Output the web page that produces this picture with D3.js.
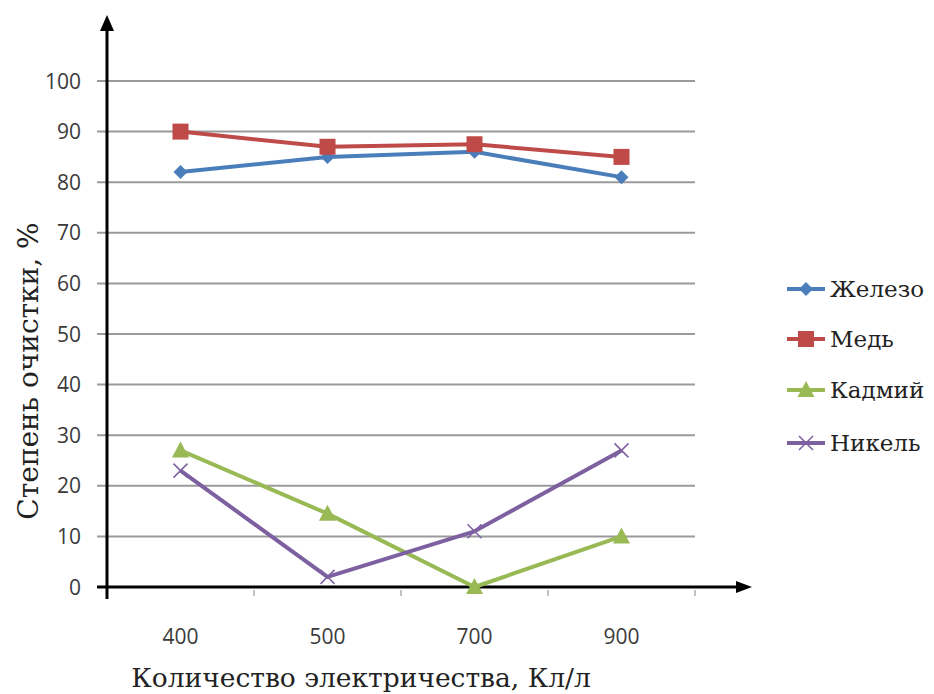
<!DOCTYPE html>
<html><head><meta charset="utf-8">
<script src="https://cdn.jsdelivr.net/npm/d3@7"></script>
<style>body{margin:0;background:#fff}svg{display:block}</style>
</head><body>
<svg id="c" width="934" height="694"></svg>
<script>
const categories = ["400", "500", "700", "900"];
const yTicks = [0, 10, 20, 30, 40, 50, 60, 70, 80, 90, 100];
const seriesNames = ["Железо", "Медь", "Кадмий", "Никель"];
const iron = [82, 85, 86, 81];
const copper = [90, 87, 87.5, 85];
const cadmium = [27, 14.5, 0, 10];
const nickel = [23, 2, 11, 27];
const colors = ["#4a7ebb", "#be4b48", "#98b954", "#7d60a0"];
const markers = ["diamond", "square", "triangle", "x"];
const yTitle = "Степень очистки, %";
const xTitle = "Количество электричества, Кл/л";

const series = [iron, copper, cadmium, nickel];
const svg = d3.select("#c");
const x0 = 107, x1 = 695, yTop = 81, yBot = 587;
const x = d3.scaleBand().domain(categories).range([x0, x1]);
const y = d3.scaleLinear().domain([0, 100]).range([yBot, yTop]);
const serif = "DejaVu Serif, serif";
const sans = "Open Sans, sans-serif";

// gridlines
svg.append("g").selectAll("line").data(yTicks.filter(d => d > 0)).join("line")
  .attr("x1", 97).attr("x2", x1).attr("y1", d => y(d)).attr("y2", d => y(d))
  .attr("stroke", "#9a9a9a").attr("stroke-width", 2);

// y tick labels
svg.append("g").selectAll("text").data(yTicks).join("text")
  .attr("x", 81).attr("y", d => y(d)).attr("dy", "0.36em")
  .attr("text-anchor", "end").attr("font-family", sans)
  .attr("font-size", 21).attr("fill", "#3a3a3a").text(d => d);

// x axis ticks
const xa = d3.axisBottom(x).tickSize(0).tickFormat(d => d);
const gx = svg.append("g").attr("transform", `translate(0,${yBot})`).call(xa);
gx.select(".domain").remove();
gx.selectAll("text").attr("dy", 0).attr("y", 57).attr("font-family", sans)
  .attr("font-size", 21).attr("fill", "#3a3a3a");
svg.append("g").selectAll("line").data(categories.slice(1).concat(["end"])).join("line")
  .attr("x1", (d, i) => x0 + x.step() * (i + 1)).attr("x2", (d, i) => x0 + x.step() * (i + 1))
  .attr("y1", yBot + 3).attr("y2", yBot + 9).attr("stroke", "#999").attr("stroke-width", 1.2);

// axes lines with arrows
svg.append("line").attr("x1", 97).attr("x2", 738).attr("y1", yBot).attr("y2", yBot)
  .attr("stroke", "#000").attr("stroke-width", 3);
svg.append("path").attr("d", `M752,${yBot} L736,${yBot - 6} L736,${yBot + 6} Z`).attr("fill", "#000");
svg.append("line").attr("x1", x0).attr("x2", x0).attr("y1", 599).attr("y2", 28)
  .attr("stroke", "#000").attr("stroke-width", 3);
svg.append("path").attr("d", `M${x0},15 L${x0 - 7},31 L${x0 + 7},31 Z`).attr("fill", "#000");

function marker(g, type, cx, cy, color) {
  if (type === "diamond") {
    g.append("path").attr("d", `M${cx},${cy - 7} L${cx + 7},${cy} L${cx},${cy + 7} L${cx - 7},${cy} Z`).attr("fill", color);
  } else if (type === "square") {
    g.append("rect").attr("x", cx - 8).attr("y", cy - 8).attr("width", 16).attr("height", 16).attr("fill", color);
  } else if (type === "triangle") {
    g.append("path").attr("d", `M${cx},${cy - 9} L${cx + 8.5},${cy + 7} L${cx - 8.5},${cy + 7} Z`).attr("fill", color);
  } else {
    g.append("path").attr("d", `M${cx - 7},${cy - 7} L${cx + 7},${cy + 7} M${cx + 7},${cy - 7} L${cx - 7},${cy + 7}`)
      .attr("stroke", color).attr("stroke-width", 1.5).attr("fill", "none");
  }
}

const line = d3.line().x((d, i) => x(categories[i]) + x.bandwidth() / 2).y(d => y(d));
series.forEach((s, k) => {
  const g = svg.append("g");
  g.append("path").attr("d", line(s)).attr("fill", "none").attr("stroke", colors[k])
    .attr("stroke-width", 4).attr("stroke-linejoin", "round");
  s.forEach((v, i) => marker(g, markers[k], x(categories[i]) + x.bandwidth() / 2, y(v), colors[k]));
});

// legend
const legY = [289, 339, 390, 443];
seriesNames.forEach((n, k) => {
  const g = svg.append("g");
  g.append("line").attr("x1", 787).attr("x2", 825).attr("y1", legY[k]).attr("y2", legY[k])
    .attr("stroke", colors[k]).attr("stroke-width", 4);
  marker(g, markers[k], 806, legY[k], colors[k]);
  g.append("text").attr("x", 830).attr("y", legY[k]).attr("dy", "0.33em")
    .attr("font-family", serif).attr("font-size", 23).attr("fill", "#222").text(n);
});

// titles
svg.append("text").attr("transform", "translate(38,371) rotate(-90)").attr("text-anchor", "middle")
  .attr("font-family", serif).attr("font-size", 28).attr("fill", "#222").text(yTitle);
svg.append("text").attr("x", 361).attr("y", 687).attr("text-anchor", "middle")
  .attr("font-family", serif).attr("font-size", 26.5).attr("fill", "#222").text(xTitle);
</script>
</body></html>
